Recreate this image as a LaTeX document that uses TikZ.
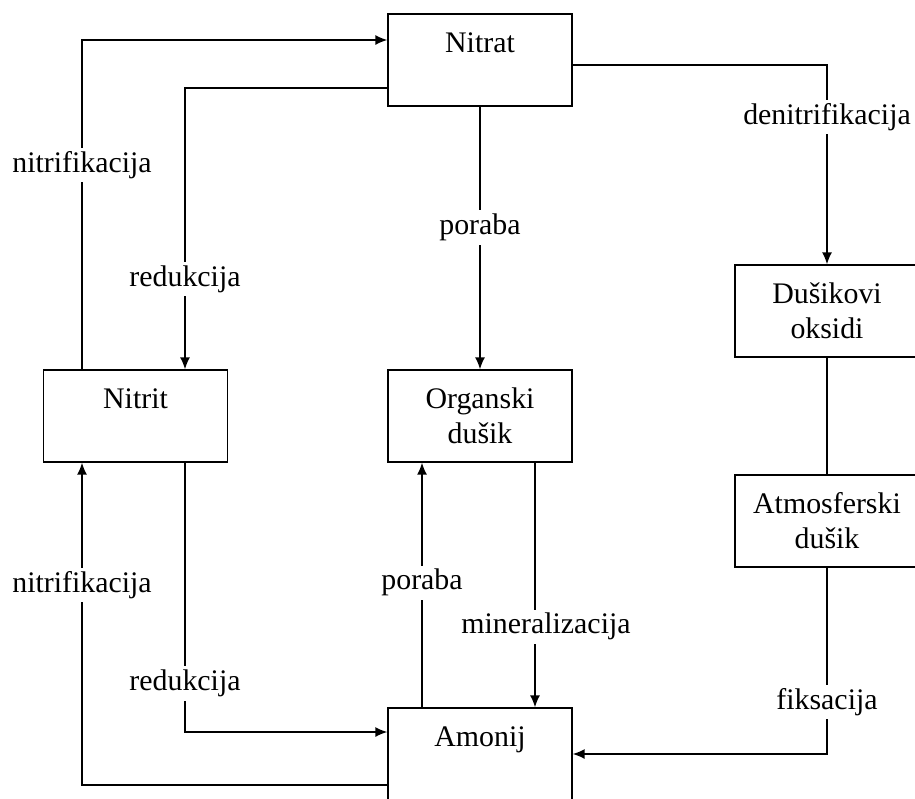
\documentclass[tikz,border=0pt]{standalone}
\usepackage{fontspec}
\setmainfont{Liberation Serif}
\usetikzlibrary{arrows.meta}

\tikzset{
  box/.style={draw, line width=0.8pt, minimum width=3.68cm, minimum height=1.84cm,
    align=center, inner sep=0pt, font=\fontsize{17}{20}\selectfont},
  flow/.style={line width=0.8pt, -{Latex[length=2.4mm,width=2mm]}},
  link/.style={line width=0.8pt},
  lbl/.style={fill=white, inner sep=2pt, font=\fontsize{17}{20}\selectfont}
}

\begin{document}
\begin{tikzpicture}[x=0.02cm, y=-0.02cm]
    \useasboundingbox (0,0) rectangle (915,798);
    % boxes
    \node[box] (nitrat) at (480,60) {Nitrat\\~};
    \node[box] (nitrit) at (135.5,416) {Nitrit\\~};
    \node[box] (organski) at (480,416) {Organski\\dušik};
    \node[box] (oksidi) at (827,311) {Dušikovi\\oksidi};
    \node[box] (atmos) at (827,521) {Atmosferski\\dušik};
    \node[box] (amonij) at (480,754) {Amonij\\~};
    % connectors
    \draw[flow] ([xshift=-1.07cm]nitrit.north) |- ([yshift=0.4cm]nitrat.west)
      node[lbl, pos=0.31] {nitrifikacija};
    \draw[flow] ([yshift=-0.56cm]nitrat.west) -| ([xshift=0.99cm]nitrit.north)
      node[lbl, pos=0.84] {redukcija};
    \draw[flow] (nitrat) -- (organski)
      node[lbl, pos=0.46] {poraba};
    \draw[flow] ([yshift=-0.1cm]nitrat.east) -| (oksidi.north)
      node[lbl, pos=0.63] {denitrifikacija};
    \draw[link] (oksidi) -- (atmos);
    \draw[flow] (atmos.south) |- (amonij.east)
      node[lbl, pos=0.36] {fiksacija};
    \draw[flow] ([yshift=-0.62cm]amonij.west) -| ([xshift=-1.07cm]nitrit.south)
      node[lbl, pos=0.81] {nitrifikacija};
    \draw[flow] ([xshift=0.99cm]nitrit.south) |- ([yshift=0.44cm]amonij.west)
      node[lbl, pos=0.41] {redukcija};
    \draw[flow] ([xshift=-1.16cm]amonij.north) -- ([xshift=-1.16cm]organski.south)
      node[lbl, pos=0.51] {poraba};
    \draw[flow] ([xshift=1.1cm]organski.south) -- ([xshift=1.1cm]amonij.north)
      node[lbl, pos=0.67, xshift=0.22cm] {mineralizacija};
\end{tikzpicture}
\end{document}
